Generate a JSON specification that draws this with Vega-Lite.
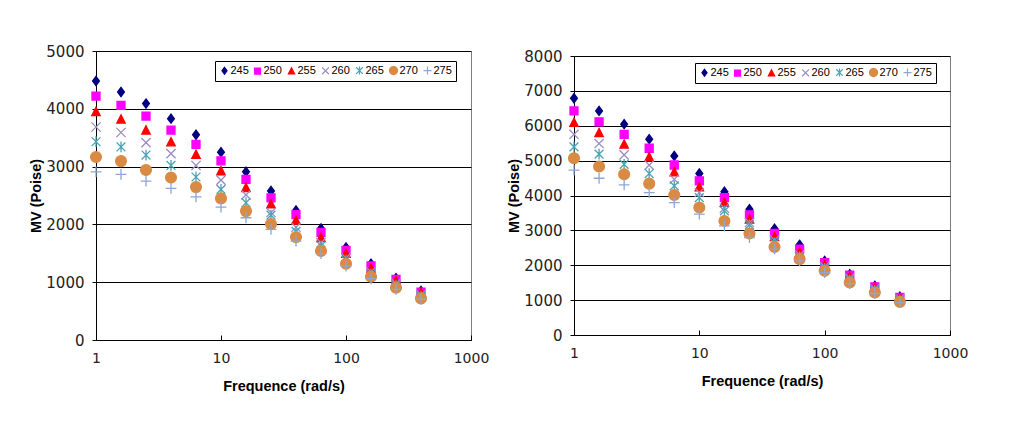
{
  "$schema": "https://vega.github.io/schema/vega-lite/v6.json",
  "background": "white",
  "padding": {"left": 28, "top": 43, "right": 5, "bottom": 5},
  "datasets": {
    "left": [
      {"T": "245", "f": 1, "v": 4480}, {"T": "245", "f": 1.585, "v": 4290}, {"T": "245", "f": 2.512, "v": 4090}, {"T": "245", "f": 3.981, "v": 3830}, {"T": "245", "f": 6.31, "v": 3550}, {"T": "245", "f": 10, "v": 3250}, {"T": "245", "f": 15.85, "v": 2910}, {"T": "245", "f": 25.12, "v": 2580}, {"T": "245", "f": 39.81, "v": 2240}, {"T": "245", "f": 63.1, "v": 1930}, {"T": "245", "f": 100, "v": 1600}, {"T": "245", "f": 158.5, "v": 1320}, {"T": "245", "f": 251.2, "v": 1070}, {"T": "245", "f": 398.1, "v": 850},
      {"T": "250", "f": 1, "v": 4220}, {"T": "250", "f": 1.585, "v": 4060}, {"T": "250", "f": 2.512, "v": 3875}, {"T": "250", "f": 3.981, "v": 3630}, {"T": "250", "f": 6.31, "v": 3385}, {"T": "250", "f": 10, "v": 3100}, {"T": "250", "f": 15.85, "v": 2780}, {"T": "250", "f": 25.12, "v": 2460}, {"T": "250", "f": 39.81, "v": 2170}, {"T": "250", "f": 63.1, "v": 1860}, {"T": "250", "f": 100, "v": 1550}, {"T": "250", "f": 158.5, "v": 1280}, {"T": "250", "f": 251.2, "v": 1050}, {"T": "250", "f": 398.1, "v": 830},
      {"T": "255", "f": 1, "v": 3950}, {"T": "255", "f": 1.585, "v": 3820}, {"T": "255", "f": 2.512, "v": 3630}, {"T": "255", "f": 3.981, "v": 3425}, {"T": "255", "f": 6.31, "v": 3210}, {"T": "255", "f": 10, "v": 2925}, {"T": "255", "f": 15.85, "v": 2635}, {"T": "255", "f": 25.12, "v": 2350}, {"T": "255", "f": 39.81, "v": 2070}, {"T": "255", "f": 63.1, "v": 1770}, {"T": "255", "f": 100, "v": 1495}, {"T": "255", "f": 158.5, "v": 1240}, {"T": "255", "f": 251.2, "v": 1020}, {"T": "255", "f": 398.1, "v": 815},
      {"T": "260", "f": 1, "v": 3685}, {"T": "260", "f": 1.585, "v": 3590}, {"T": "260", "f": 2.512, "v": 3415}, {"T": "260", "f": 3.981, "v": 3225}, {"T": "260", "f": 6.31, "v": 3020}, {"T": "260", "f": 10, "v": 2765}, {"T": "260", "f": 15.85, "v": 2510}, {"T": "260", "f": 25.12, "v": 2205}, {"T": "260", "f": 39.81, "v": 1950}, {"T": "260", "f": 63.1, "v": 1680}, {"T": "260", "f": 100, "v": 1420}, {"T": "260", "f": 158.5, "v": 1180}, {"T": "260", "f": 251.2, "v": 980}, {"T": "260", "f": 398.1, "v": 780},
      {"T": "265", "f": 1, "v": 3430}, {"T": "265", "f": 1.585, "v": 3340}, {"T": "265", "f": 2.512, "v": 3200}, {"T": "265", "f": 3.981, "v": 3020}, {"T": "265", "f": 6.31, "v": 2820}, {"T": "265", "f": 10, "v": 2605}, {"T": "265", "f": 15.85, "v": 2375}, {"T": "265", "f": 25.12, "v": 2160}, {"T": "265", "f": 39.81, "v": 1880}, {"T": "265", "f": 63.1, "v": 1630}, {"T": "265", "f": 100, "v": 1380}, {"T": "265", "f": 158.5, "v": 1140}, {"T": "265", "f": 251.2, "v": 950}, {"T": "265", "f": 398.1, "v": 760},
      {"T": "270", "f": 1, "v": 3165}, {"T": "270", "f": 1.585, "v": 3095}, {"T": "270", "f": 2.512, "v": 2940}, {"T": "270", "f": 3.981, "v": 2810}, {"T": "270", "f": 6.31, "v": 2645}, {"T": "270", "f": 10, "v": 2450}, {"T": "270", "f": 15.85, "v": 2230}, {"T": "270", "f": 25.12, "v": 2005}, {"T": "270", "f": 39.81, "v": 1780}, {"T": "270", "f": 63.1, "v": 1540}, {"T": "270", "f": 100, "v": 1320}, {"T": "270", "f": 158.5, "v": 1095}, {"T": "270", "f": 251.2, "v": 905}, {"T": "270", "f": 398.1, "v": 720},
      {"T": "275", "f": 1, "v": 2910}, {"T": "275", "f": 1.585, "v": 2865}, {"T": "275", "f": 2.512, "v": 2750}, {"T": "275", "f": 3.981, "v": 2625}, {"T": "275", "f": 6.31, "v": 2475}, {"T": "275", "f": 10, "v": 2300}, {"T": "275", "f": 15.85, "v": 2115}, {"T": "275", "f": 25.12, "v": 1915}, {"T": "275", "f": 39.81, "v": 1710}, {"T": "275", "f": 63.1, "v": 1495}, {"T": "275", "f": 100, "v": 1280}, {"T": "275", "f": 158.5, "v": 1060}, {"T": "275", "f": 251.2, "v": 875}, {"T": "275", "f": 398.1, "v": 705}
    ],
    "right": [
      {"T": "245", "f": 1, "v": 6790}, {"T": "245", "f": 1.585, "v": 6425}, {"T": "245", "f": 2.512, "v": 6045}, {"T": "245", "f": 3.981, "v": 5615}, {"T": "245", "f": 6.31, "v": 5135}, {"T": "245", "f": 10, "v": 4630}, {"T": "245", "f": 15.85, "v": 4110}, {"T": "245", "f": 25.12, "v": 3605}, {"T": "245", "f": 39.81, "v": 3045}, {"T": "245", "f": 63.1, "v": 2585}, {"T": "245", "f": 100, "v": 2125}, {"T": "245", "f": 158.5, "v": 1745}, {"T": "245", "f": 251.2, "v": 1410}, {"T": "245", "f": 398.1, "v": 1100},
      {"T": "250", "f": 1, "v": 6425}, {"T": "250", "f": 1.585, "v": 6110}, {"T": "250", "f": 2.512, "v": 5755}, {"T": "250", "f": 3.981, "v": 5355}, {"T": "250", "f": 6.31, "v": 4875}, {"T": "250", "f": 10, "v": 4420}, {"T": "250", "f": 15.85, "v": 3940}, {"T": "250", "f": 25.12, "v": 3445}, {"T": "250", "f": 39.81, "v": 2910}, {"T": "250", "f": 63.1, "v": 2460}, {"T": "250", "f": 100, "v": 2075}, {"T": "250", "f": 158.5, "v": 1715}, {"T": "250", "f": 251.2, "v": 1380}, {"T": "250", "f": 398.1, "v": 1080},
      {"T": "255", "f": 1, "v": 6090}, {"T": "255", "f": 1.585, "v": 5800}, {"T": "255", "f": 2.512, "v": 5470}, {"T": "255", "f": 3.981, "v": 5105}, {"T": "255", "f": 6.31, "v": 4675}, {"T": "255", "f": 10, "v": 4245}, {"T": "255", "f": 15.85, "v": 3795}, {"T": "255", "f": 25.12, "v": 3320}, {"T": "255", "f": 39.81, "v": 2815}, {"T": "255", "f": 63.1, "v": 2365}, {"T": "255", "f": 100, "v": 2010}, {"T": "255", "f": 158.5, "v": 1670}, {"T": "255", "f": 251.2, "v": 1345}, {"T": "255", "f": 398.1, "v": 1060},
      {"T": "260", "f": 1, "v": 5755}, {"T": "260", "f": 1.585, "v": 5490}, {"T": "260", "f": 2.512, "v": 5165}, {"T": "260", "f": 3.981, "v": 4870}, {"T": "260", "f": 6.31, "v": 4465}, {"T": "260", "f": 10, "v": 4085}, {"T": "260", "f": 15.85, "v": 3635}, {"T": "260", "f": 25.12, "v": 3225}, {"T": "260", "f": 39.81, "v": 2720}, {"T": "260", "f": 63.1, "v": 2300}, {"T": "260", "f": 100, "v": 1960}, {"T": "260", "f": 158.5, "v": 1630}, {"T": "260", "f": 251.2, "v": 1320}, {"T": "260", "f": 398.1, "v": 1040},
      {"T": "265", "f": 1, "v": 5395}, {"T": "265", "f": 1.585, "v": 5185}, {"T": "265", "f": 2.512, "v": 4895}, {"T": "265", "f": 3.981, "v": 4630}, {"T": "265", "f": 6.31, "v": 4275}, {"T": "265", "f": 10, "v": 3940}, {"T": "265", "f": 15.85, "v": 3560}, {"T": "265", "f": 25.12, "v": 3160}, {"T": "265", "f": 39.81, "v": 2640}, {"T": "265", "f": 63.1, "v": 2250}, {"T": "265", "f": 100, "v": 1910}, {"T": "265", "f": 158.5, "v": 1580}, {"T": "265", "f": 251.2, "v": 1280}, {"T": "265", "f": 398.1, "v": 1010},
      {"T": "270", "f": 1, "v": 5070}, {"T": "270", "f": 1.585, "v": 4830}, {"T": "270", "f": 2.512, "v": 4610}, {"T": "270", "f": 3.981, "v": 4340}, {"T": "270", "f": 6.31, "v": 4015}, {"T": "270", "f": 10, "v": 3655}, {"T": "270", "f": 15.85, "v": 3270}, {"T": "270", "f": 25.12, "v": 2910}, {"T": "270", "f": 39.81, "v": 2525}, {"T": "270", "f": 63.1, "v": 2175}, {"T": "270", "f": 100, "v": 1840}, {"T": "270", "f": 158.5, "v": 1505}, {"T": "270", "f": 251.2, "v": 1220}, {"T": "270", "f": 398.1, "v": 950},
      {"T": "275", "f": 1, "v": 4725}, {"T": "275", "f": 1.585, "v": 4495}, {"T": "275", "f": 2.512, "v": 4305}, {"T": "275", "f": 3.981, "v": 4085}, {"T": "275", "f": 6.31, "v": 3795}, {"T": "275", "f": 10, "v": 3465}, {"T": "275", "f": 15.85, "v": 3130}, {"T": "275", "f": 25.12, "v": 2795}, {"T": "275", "f": 39.81, "v": 2460}, {"T": "275", "f": 63.1, "v": 2125}, {"T": "275", "f": 100, "v": 1790}, {"T": "275", "f": 158.5, "v": 1475}, {"T": "275", "f": 251.2, "v": 1190}, {"T": "275", "f": 398.1, "v": 930}
    ]
  },
  "hconcat": [
    {
      "width": 375,
      "height": 289,
      "data": {"name": "left"},
      "mark": {"type": "point", "filled": true, "size": 64, "strokeWidth": 1.3, "opacity": 1},
      "encoding": {
        "x": {"field": "f", "type": "quantitative", "scale": {"type": "log", "domain": [1, 1000], "nice": false},
              "axis": {"title": "Frequence (rad/s)", "values": [1, 10, 100, 1000], "format": "d", "grid": false, "tickSize": -5, "labelPadding": 16, "titlePadding": 14}},
        "y": {"field": "v", "type": "quantitative", "scale": {"domain": [0, 5000], "nice": false},
              "axis": {"title": "MV (Poise)", "values": [0, 1000, 2000, 3000, 4000, 5000], "format": "d", "grid": true, "tickSize": 4, "labelPadding": 8, "labelFontSize": 15, "titlePadding": 2}},
        "color": {"field": "T", "type": "nominal",
                  "scale": {"domain": ["245", "250", "255", "260", "265", "270", "275"], "range": ["#000080", "#FF00FF", "#FF0000", "#9A8CC0", "#4BA3B5", "#D98B44", "#8DA7D6"]},
                  "legend": {"title": null, "orient": "none", "legendX": 119, "legendY": 10, "direction": "horizontal"}},
        "stroke": {"field": "T", "type": "nominal",
                  "scale": {"domain": ["245", "250", "255", "260", "265", "270", "275"], "range": ["#000080", "#FF00FF", "#FF0000", "#9A8CC0", "#4BA3B5", "#D98B44", "#8DA7D6"]},
                  "legend": {"title": null, "orient": "none", "legendX": 119, "legendY": 10, "direction": "horizontal"}},
        "shape": {"field": "T", "type": "nominal",
                  "scale": {"domain": ["245", "250", "255", "260", "265", "270", "275"], "range": ["M0,-1.15L0.85,0L0,1.15L-0.85,0Z", "M-1,-1L1,-1L1,1L-1,1Z", "M0,-1.1L1.05,0.95L-1.05,0.95Z", "M-1.15,-1.15L1.15,1.15M1.15,-1.15L-1.15,1.15", "M-1.1,-1.1L1.1,1.1M1.1,-1.1L-1.1,1.1M0,-1.35L0,1.35", "M1.35,0A1.35,1.35,0,1,1,-1.35,0A1.35,1.35,0,1,1,1.35,0Z", "M-1.35,0L1.35,0M0,-1.35L0,1.35"]},
                  "legend": {"title": null, "orient": "none", "legendX": 119, "legendY": 10, "direction": "horizontal"}}
      }
    },
    {
      "width": 376,
      "height": 279,
      "data": {"name": "right"},
      "mark": {"type": "point", "filled": true, "size": 64, "strokeWidth": 1.3, "opacity": 1},
      "encoding": {
        "x": {"field": "f", "type": "quantitative", "scale": {"type": "log", "domain": [1, 1000], "nice": false},
              "axis": {"title": "Frequence (rad/s)", "values": [1, 10, 100, 1000], "format": "d", "grid": false, "tickSize": -5, "labelPadding": 16, "titlePadding": 14}},
        "y": {"field": "v", "type": "quantitative", "scale": {"domain": [0, 8000], "nice": false},
              "axis": {"title": "MV (Poise)", "values": [0, 1000, 2000, 3000, 4000, 5000, 6000, 7000, 8000], "format": "d", "grid": true, "tickSize": 4, "labelPadding": 8, "labelFontSize": 15, "titlePadding": 2}},
        "color": {"field": "T", "type": "nominal",
                  "scale": {"domain": ["245", "250", "255", "260", "265", "270", "275"], "range": ["#000080", "#FF00FF", "#FF0000", "#9A8CC0", "#4BA3B5", "#D98B44", "#8DA7D6"]},
                  "legend": {"title": null, "orient": "none", "legendX": 121, "legendY": 7, "direction": "horizontal"}},
        "stroke": {"field": "T", "type": "nominal",
                  "scale": {"domain": ["245", "250", "255", "260", "265", "270", "275"], "range": ["#000080", "#FF00FF", "#FF0000", "#9A8CC0", "#4BA3B5", "#D98B44", "#8DA7D6"]},
                  "legend": {"title": null, "orient": "none", "legendX": 121, "legendY": 7, "direction": "horizontal"}},
        "shape": {"field": "T", "type": "nominal",
                  "scale": {"domain": ["245", "250", "255", "260", "265", "270", "275"], "range": ["M0,-1.15L0.85,0L0,1.15L-0.85,0Z", "M-1,-1L1,-1L1,1L-1,1Z", "M0,-1.1L1.05,0.95L-1.05,0.95Z", "M-1.15,-1.15L1.15,1.15M1.15,-1.15L-1.15,1.15", "M-1.1,-1.1L1.1,1.1M1.1,-1.1L-1.1,1.1M0,-1.35L0,1.35", "M1.35,0A1.35,1.35,0,1,1,-1.35,0A1.35,1.35,0,1,1,1.35,0Z", "M-1.35,0L1.35,0M0,-1.35L0,1.35"]},
                  "legend": {"title": null, "orient": "none", "legendX": 121, "legendY": 7, "direction": "horizontal"}}
      }
    }
  ],
  "center": true,
  "spacing": 16,
  "resolve": {
    "scale": {"color": "independent", "stroke": "independent", "shape": "independent"},
    "legend": {"color": "independent", "stroke": "independent", "shape": "independent"}
  },
  "config": {
    "view": {"stroke": "#7f7f7f", "strokeWidth": 1},
    "axis": {
      "labelFont": "DejaVu Sans", "labelFontSize": 14, "labelColor": "#222222",
      "titleFont": "Liberation Sans", "titleFontSize": 14.5, "titleFontWeight": "bold", "titleColor": "#000000",
      "domainColor": "#000000", "tickColor": "#000000", "gridColor": "#000000", "gridOpacity": 1, "gridWidth": 1,
      "domainWidth": 1, "tickWidth": 1, "labelFlush": false, "labelOverlap": false
    },
    "legend": {
      "strokeColor": "#000000", "padding": 4, "labelFont": "Liberation Sans", "labelFontSize": 11, "labelColor": "#000000",
      "symbolSize": 36, "symbolStrokeWidth": 1.2, "labelOffset": 0.5, "columnPadding": 3, "symbolType": "circle"
    }
  }
}
